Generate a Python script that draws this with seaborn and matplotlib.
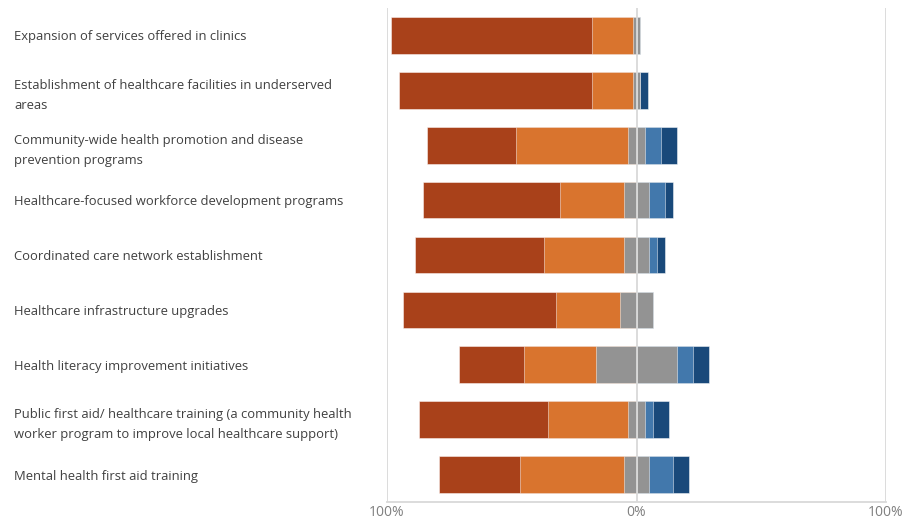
import matplotlib
matplotlib.use("Agg")
import matplotlib.pyplot as plt
import seaborn as sns
import pandas as pd
import numpy as np

categories = [
    "Expansion of services offered in clinics",
    "Establishment of healthcare facilities in underserved\nareas",
    "Community-wide health promotion and disease\nprevention programs",
    "Healthcare-focused workforce development programs",
    "Coordinated care network establishment",
    "Healthcare infrastructure upgrades",
    "Health literacy improvement initiatives",
    "Public first aid/ healthcare training (a community health\nworker program to improve local healthcare support)",
    "Mental health first aid training",
]

# percentage of respondents per response level
very_high = [80.6, 77.4, 35.5, 54.8, 51.6, 61.3, 25.8, 51.6, 32.3]
high      = [16.1, 16.1, 45.2, 25.8, 32.3, 25.8, 29.0, 32.3, 41.9]
neutral   = [3.2, 3.2, 6.5, 9.7, 9.7, 12.9, 32.3, 6.5, 9.7]
low       = [0.0, 0.0, 6.5, 6.5, 3.2, 0.0, 6.5, 3.2, 9.7]
very_low  = [0.0, 3.2, 6.5, 3.2, 3.2, 0.0, 6.5, 6.5, 6.5]

tick_values = [-100, 0, 100]
tick_labels = ["100%", "0%", "100%"]

colors = {
    "very_high": "#A9411A",
    "high": "#D9742E",
    "neutral": "#939393",
    "low": "#4278AC",
    "very_low": "#19497A",
}

sns.set_theme(style="white")
plt.rcParams["font.family"] = ["Open Sans", "DejaVu Sans"]

df = pd.DataFrame({
    "category": categories,
    "very_high": very_high,
    "high": high,
    "neutral": neutral,
    "low": low,
    "very_low": very_low,
})
half = df["neutral"] / 2
df["left_outer"] = -(half + df["high"] + df["very_high"])
df["left_mid"] = -(half + df["high"])
df["left_inner"] = -half
df["right_inner"] = half
df["right_mid"] = half + df["low"]
df["right_outer"] = half + df["low"] + df["very_low"]

fig = plt.figure(figsize=(9.22, 5.22), dpi=100)
ax = fig.add_axes([387 / 922, (522 - 502) / 522, (886 - 387) / 922, (502 - 8) / 522])

# stacked segments drawn outermost first so inner ones sit on top
layers = [
    ("left_outer", colors["very_high"]),
    ("left_mid", colors["high"]),
    ("left_inner", colors["neutral"]),
    ("right_outer", colors["very_low"]),
    ("right_mid", colors["low"]),
    ("right_inner", colors["neutral"]),
]
for col, c in layers:
    sns.barplot(data=df, x=col, y="category", orient="h", color=c,
                width=0.67, edgecolor=(1, 1, 1, 0.55), linewidth=0.6,
                saturation=1, ax=ax)

ax.set_xlim(-100, 100)
ax.set_ylim(8.5, -0.5)
ax.set_xlabel("")
ax.set_ylabel("")

grid_c = "#D9D9D9"
for v in tick_values:
    ax.axvline(v, color=grid_c, lw=1.3, zorder=5 if v == 0 else 0)

for s in ["top", "right", "left"]:
    ax.spines[s].set_visible(False)
ax.spines["bottom"].set_color(grid_c)
ax.spines["bottom"].set_linewidth(1.3)

ax.set_xticks(tick_values)
ax.set_xticklabels(tick_labels, color="#7F7F7F", fontsize=10)
ax.tick_params(axis="x", length=0, pad=2.5)

ax.set_yticks(range(len(categories)))
ax.set_yticklabels(categories, fontsize=9.4, color="#404040",
                   ha="left", linespacing=1.72)
ax.tick_params(axis="y", length=0, pad=373 * 72 / 100)

fig.savefig("out.png", dpi=100, facecolor="white")
